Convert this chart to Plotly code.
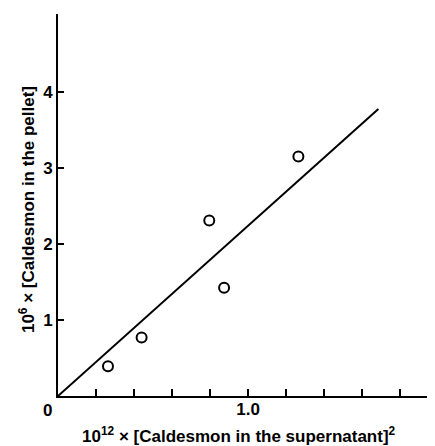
import plotly.graph_objects as go

# Data
x_points = [0.263, 0.44, 0.796, 0.874, 1.265]
y_points = [0.39, 0.77, 2.31, 1.425, 3.15]
fit_x = [0.0, 1.686]
fit_y = [0.0, 3.776]
x_tickvals = [1.0]
x_ticktext = ["1.0"]
x_minor_step = 0.2
y_tickvals = [1, 2, 3, 4]
y_ticktext = ["1", "2", "3", "4"]

FONT = "Liberation Sans, Arial, sans-serif"

# The page body has an 8px default margin; figure is sized to fill the rest.
fig = go.Figure()
fig.add_trace(go.Scatter(x=fit_x, y=fit_y, mode="lines",
                         line=dict(color="black", width=2), showlegend=False))
fig.add_trace(go.Scatter(x=x_points, y=y_points, mode="markers",
                         marker=dict(symbol="circle-open", size=10, color="black",
                                     line=dict(color="black", width=2)),
                         showlegend=False))

fig.update_layout(
    width=427, height=438,
    margin=dict(l=50, r=0, t=6, b=50),
    paper_bgcolor="white", plot_bgcolor="white",
    font=dict(family=FONT, color="black"),
    xaxis=dict(range=[0, 1.984], tickvals=x_tickvals,
               ticktext=["<b>%s</b>" % t for t in x_ticktext],
               ticks="inside", ticklen=7, tickwidth=2, tickcolor="black",
               minor=dict(tick0=0, dtick=x_minor_step, ticks="inside", ticklen=7,
                          tickwidth=2, tickcolor="black", showgrid=False),
               showline=True, linecolor="black", linewidth=2, tickangle=0,
               showgrid=False, zeroline=False, ticklabelstandoff=-3,
               tickfont=dict(size=17, family=FONT)),
    yaxis=dict(range=[0, 5.026], tickvals=y_tickvals,
               ticktext=["<b>%s</b>" % t for t in y_ticktext],
               ticks="inside", ticklen=6, tickwidth=2, tickcolor="black",
               showline=True, linecolor="black", linewidth=2, tickangle=0,
               showgrid=False, zeroline=False,
               tickfont=dict(size=17, family=FONT)),
    annotations=[
        dict(text="<b>0</b>", xref="paper", yref="paper", x=-0.027, y=-0.037,
             showarrow=False, xanchor="center", yanchor="middle",
             font=dict(size=17, family=FONT)),
        dict(text="<b>10<sup>12</sup> × [Caldesmon in the supernatant]<sup>2</sup></b>",
             xref="paper", yref="paper", x=0.48, y=-0.102,
             showarrow=False, xanchor="center", yanchor="middle",
             font=dict(size=17, family=FONT)),
        dict(text="<b>10<sup>6</sup> × [Caldesmon in the pellet]</b>",
             xref="paper", yref="paper", x=-0.082, y=0.487, textangle=-90,
             showarrow=False, xanchor="center", yanchor="middle",
             font=dict(size=17, family=FONT)),
    ],
)

fig.write_html("out.html")
